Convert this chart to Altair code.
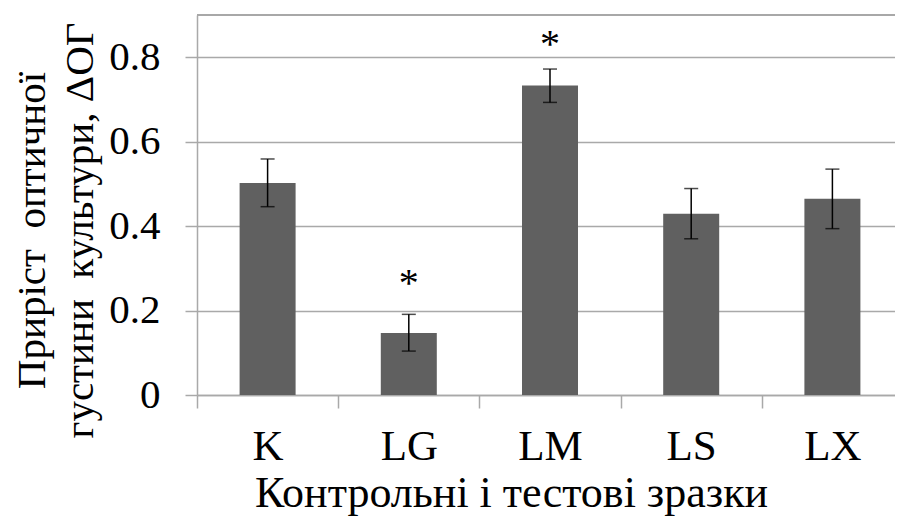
import altair as alt
import pandas as pd

samples = ["K", "LG", "LM", "LS", "LX"]
means = [0.502, 0.147, 0.733, 0.429, 0.465]
err_low = [0.446, 0.104, 0.693, 0.370, 0.394]
err_high = [0.559, 0.191, 0.772, 0.489, 0.535]
sig_marks = ["", "*", "*", "", ""]
sig_pos = [None, 0.280, 0.846, None, None]
y_ticks = [0, 0.2, 0.4, 0.6, 0.8]

df = pd.DataFrame({
    "sample": samples,
    "mean": means,
    "lo": err_low,
    "hi": err_high,
    "sig": sig_marks,
    "sig_pos": sig_pos,
})

FONT = "Liberation Serif"
GRID = "#a9a9a9"
W, H = 698, 380
BAND_RANGE = 706

x_enc = alt.X(
    "sample:N",
    sort=samples,
    scale=alt.Scale(paddingInner=0, paddingOuter=0, range=[0, BAND_RANGE]),
    axis=alt.Axis(
        title="Контрольні і тестові зразки",
        labelAngle=0,
        tickBand="extent",
        tickSize=13,
        tickColor=GRID,
        tickWidth=1.5,
        domainColor=GRID,
        domainWidth=1.5,
        labelFont=FONT,
        labelFontSize=43,
        labelColor="black",
        labelPadding=17,
        titleFont=FONT,
        titleFontSize=44,
        titleFontWeight="normal",
        titleColor="black",
        titleX=314,
        titleY=111,
        titleAlign="center",
        titleBaseline="alphabetic",
    ),
)

y_scale = alt.Scale(domain=[0, 0.9], nice=False, zero=True)

bars = alt.Chart(df).mark_bar(size=56, color="#606060").encode(
    x=x_enc,
    y=alt.Y(
        "mean:Q",
        scale=y_scale,
        axis=alt.Axis(
            title=["Приріст \u00a0оптичної", "густини \u00a0культури, ΔОГ"],
            values=y_ticks,
            format=".1~f",
            grid=True,
            gridColor=GRID,
            gridWidth=1.5,
            tickColor=GRID,
            tickWidth=1.5,
            tickSize=12,
            domainColor=GRID,
            domainWidth=1.5,
            labelFont=FONT,
            labelFontSize=41,
            labelColor="black",
            labelPadding=25,
            titleFont=FONT,
            titleFontSize=41,
            titleFontWeight="normal",
            titleColor="black",
            titleAngle=-90,
            titleX=-153,
            titleY=215,
            titleAlign="center",
            titleBaseline="alphabetic",
            titleLineHeight=48,
        ),
    ),
)

top_border = alt.Chart(df).mark_rule(color=GRID, strokeWidth=1.5).encode(
    y=alt.value(0), x=alt.value(0), x2=alt.value(W)
)

rules = alt.Chart(df).mark_rule(color="black", strokeWidth=1.5).encode(
    x=alt.X("sample:N", sort=samples),
    y=alt.Y("lo:Q", scale=y_scale),
    y2="hi:Q",
)

caps_hi = alt.Chart(df).mark_tick(color="black", thickness=1.5, size=14, orient="horizontal").encode(
    x=alt.X("sample:N", sort=samples),
    y=alt.Y("hi:Q", scale=y_scale),
)
caps_lo = alt.Chart(df).mark_tick(color="black", thickness=1.5, size=14, orient="horizontal").encode(
    x=alt.X("sample:N", sort=samples),
    y=alt.Y("lo:Q", scale=y_scale),
)

stars = alt.Chart(df).transform_filter("datum.sig != ''").mark_text(
    font=FONT, fontSize=40, color="black", baseline="alphabetic", dy=19
).encode(
    x=alt.X("sample:N", sort=samples),
    y=alt.Y("sig_pos:Q", scale=y_scale),
    text="sig:N",
)

chart = alt.layer(bars, top_border, rules, caps_hi, caps_lo, stars).properties(
    width=W,
    height=H,
    autosize=alt.AutoSizeParams(type="none"),
    padding={"left": 189, "top": 7, "right": 0, "bottom": 121},
).configure_view(
    strokeWidth=0
).configure(background="white")

chart.save("out.html", embed_options={"renderer": "svg", "actions": False})
